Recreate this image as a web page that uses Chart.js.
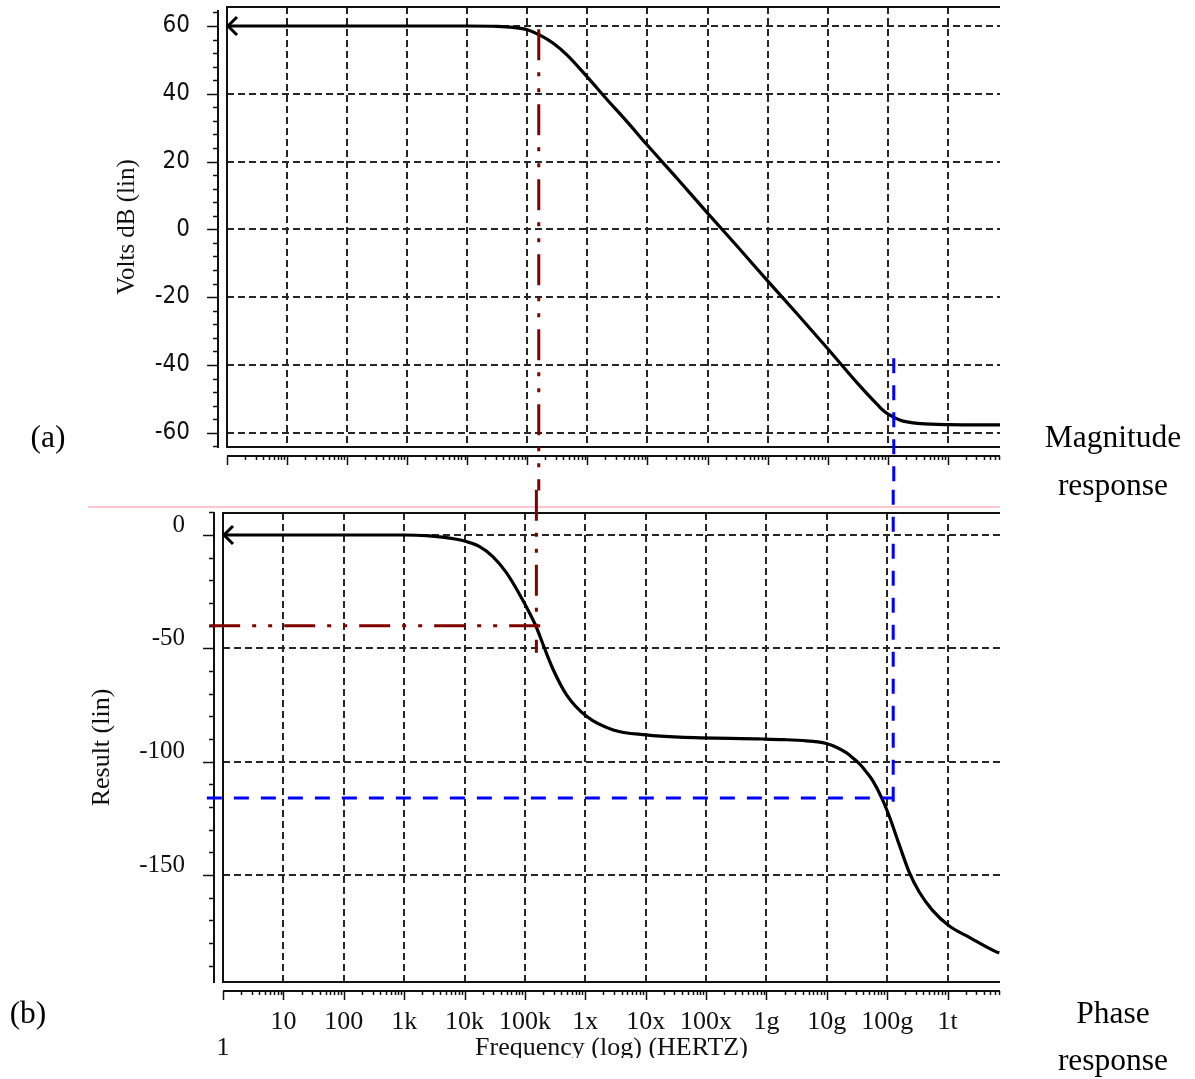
<!DOCTYPE html>
<html>
<head>
<meta charset="utf-8">
<script src="https://cdn.jsdelivr.net/npm/chart.js@4.4.1/dist/chart.umd.min.js"></script>
<style>
  body { margin: 0; background: #fff; width: 1195px; height: 1079px; position: relative; overflow: hidden;
         font-family: 'Liberation Serif', 'Times New Roman', serif; color: #000; }
  canvas { position: absolute; left: 0; top: 0; }
  .side { position: absolute; font-size: 31.5px; line-height: 1; white-space: nowrap; transform: translate(-50%, -50%); }
  .split { position: absolute; left: 88px; top: 506px; width: 912px; height: 2px; background: #ffc6cf; }
  .crop { position: absolute; left: 80px; top: 1058px; width: 940px; height: 21px; background: #fff; }
</style>
</head>
<body>
<div class="split"></div>
<canvas id="magChart" width="1195" height="1079"></canvas>
<canvas id="phaseChart" width="1195" height="1079"></canvas>
<div class="crop"></div>
<div class="side" style="left:48px;top:437px">(a)</div>
<div class="side" style="left:1113px;top:437px">Magnitude</div>
<div class="side" style="left:1113px;top:485px">response</div>
<div class="side" style="left:28px;top:1013px">(b)</div>
<div class="side" style="left:1113px;top:1013px">Phase</div>
<div class="side" style="left:1113px;top:1060px">response</div>
<script>
// frequency axis (Hz), shared by both panels
const X_TICKS = [1, 10, 100, 1e3, 1e4, 1e5, 1e6, 1e7, 1e8, 1e9, 1e10, 1e11, 1e12];
const X_LABELS = ['1', '10', '100', '1k', '10k', '100k', '1x', '10x', '100x', '1g', '10g', '100g', '1t'];
const X_MIN = 1;
const X_MAX = 7.4e12;

// (a) magnitude
const MAG_FREQ = [1, 10, 100, 1e3, 1e4, 3.2e4, 5.8e4, 1e5, 1.62e5, 2.7e5, 4.6e5, 1e6, 2.1e6, 4.6e6, 1e7,
                  3.2e7, 1e8, 3.2e8, 1e9, 3.2e9, 9.8e9, 3.1e10, 6.8e10, 8.9e10, 1.23e11, 1.58e11, 2.1e11,
                  3.5e11, 1e12, 7.4e12];
const MAG_DB = [60, 60, 60, 60, 60, 59.9, 59.6, 58.9, 57.3, 54.9, 51.4, 44.9, 38.4, 31.7, 24.8,
                14.8, 4.8, -5.2, -15.2, -25.2, -35, -45.3, -51.8, -53.8, -55.3, -56.2, -56.8,
                -57.3, -57.6, -57.7];
const MAG_TICKS = [-60, -40, -20, 0, 20, 40, 60];
const MAG_MIN = -64.2;
const MAG_MAX = 65.6;

// (b) phase
const PHASE_FREQ = [1, 10, 100, 1e3, 2.34e3, 7.4e3, 1.07e4, 1.78e4, 2.95e4, 4.9e4, 8.1e4, 1.2e5, 1.55e5, 2.0e5,
                    2.9e5, 4.9e5, 1.05e6, 2.9e6, 1.02e7, 3.6e7, 8.7e8, 2e9, 4.6e9, 7.1e9, 9.8e9, 1.41e10,
                    2.1e10, 2.8e10, 3.5e10, 4.5e10, 5.8e10, 8.3e10, 1.1e11, 1.58e11, 2.3e11, 3.4e11, 5.6e11,
                    1.07e12, 2.3e12, 6.3e12, 7.2e12];
const PHASE_DEG = [0, 0, 0, 0, -0.3, -1.9, -2.9, -5.1, -9.5, -16.5, -26, -34.5, -40.7, -48.3,
                   -59, -70.5, -80, -86, -88.2, -89.2, -90, -90.3, -90.8, -91.3, -92, -93.5,
                   -96, -98.7, -101, -104.5, -108.5, -116.5, -124.5, -136.5, -148.5, -157.5, -165.5,
                   -172.5, -177.5, -183.8, -184.4];
const PHASE_TICKS = [-150, -100, -50, 0];
const PHASE_MIN = -197.2;
const PHASE_MAX = 9.7;

// cursor lines (red: -40 deg point, blue: 100g point)
const RED_FREQ = 1.55e5;
const RED_LEFT_FREQ = 0.59;
const RED_RIGHT_FREQ = 2.05e5;
const RED_PHASE = -40;
const RED_MAG_TOP = 59;
const RED_PHASE_END = -52;
const BLUE_FREQ = 1.26e11;
const BLUE_LEFT_FREQ = 0.54;
const BLUE_PHASE = -116;
const BLUE_MAG_TOP = -38;
const BLUE_PHASE_END = -122;
const GAP_MAG = -77;     // where the cursors leave panel (a)
const GAP_PHASE = 20;    // where they enter panel (b)

const RED = '#800000';
const BLUE = '#0000ff';
const GRID = '#262626';
const INK = '#111111';
const SERIF = "'Liberation Serif', 'Times New Roman', serif";
const NARROW = "'Liberation Sans Narrow', 'Arial Narrow', 'DejaVu Sans Condensed', sans-serif";

const rulers = {
  id: 'rulers',
  beforeDatasetsDraw(chart, args, o) {
    const { ctx, chartArea: a } = chart;
    const xs = chart.scales.x, ys = chart.scales.y;
    const ry = a.bottom + o.gap, rx = a.left - o.gap;
    ctx.save();
    ctx.strokeStyle = INK;
    ctx.lineWidth = 2;
    ctx.beginPath();
    ctx.moveTo(a.right, a.top); ctx.lineTo(a.left, a.top);
    ctx.lineTo(a.left, a.bottom); ctx.lineTo(a.right, a.bottom);
    ctx.moveTo(a.left, ry); ctx.lineTo(a.right, ry);
    ctx.moveTo(rx, a.top + o.inset); ctx.lineTo(rx, a.bottom + 1);
    ctx.stroke();
    ctx.lineWidth = 1.5;
    ctx.beginPath();
    for (let e = 0; e <= 12; e++) {
      for (let m = 1; m <= 9; m++) {
        const v = m * Math.pow(10, e);
        if (v > xs.max) break;
        const px = Math.round(xs.getPixelForValue(v)) + 0.5;
        ctx.moveTo(px, ry); ctx.lineTo(px, ry + (m === 1 ? 9 : 4));
      }
    }
    for (let v = o.minorFrom; v <= o.minorTo; v += o.minorStep) {
      const py = Math.round(ys.getPixelForValue(v)) + 0.5;
      const major = ys.ticks.some(t => t.value === v);
      ctx.moveTo(rx, py); ctx.lineTo(rx - (major ? 11 : 5), py);
    }
    ctx.stroke();
    ctx.restore();
  },
  afterDatasetsDraw(chart) {
    const idx = chart.data.datasets.findIndex(d => d.arrow);
    const p = chart.getDatasetMeta(idx).data[0];
    const { ctx } = chart;
    ctx.save();
    ctx.strokeStyle = '#000';
    ctx.lineWidth = 3;
    ctx.beginPath();
    ctx.moveTo(p.x + 10, p.y - 9); ctx.lineTo(p.x + 1, p.y); ctx.lineTo(p.x + 10, p.y + 9);
    ctx.stroke();
    ctx.restore();
  }
};

const pts = (xs, ys) => xs.map((x, i) => ({ x, y: ys[i] }));

function cursor(data, color) {
  return {
    data, borderColor: color, borderWidth: 3, pointRadius: 0, clip: false,
    borderDash: color === RED ? [31, 12, 4, 12, 4, 12] : [15, 12]
  };
}

function curve(data) {
  return { data, arrow: true, borderColor: '#000', borderWidth: 3.2, pointRadius: 0, cubicInterpolationMode: 'monotone' };
}

function xScale(showLabels, height) {
  return {
    type: 'logarithmic', min: X_MIN, max: X_MAX,
    afterBuildTicks: s => { s.ticks = X_TICKS.map(v => ({ value: v })); },
    afterFit: s => { s.height = height; s.paddingLeft = 0; s.paddingRight = 0; },
    grid: { color: GRID, lineWidth: 2, drawTicks: false },
    border: { display: false, dash: [7, 4] },
    ticks: {
      display: showLabels, autoSkip: false, maxRotation: 0, padding: 27, color: INK,
      font: { family: SERIF, size: 26, lineHeight: 1 },
      callback: (v, i) => (i === 0 ? ['', X_LABELS[i]] : X_LABELS[i])
    },
    title: {
      display: showLabels, text: 'Frequency (log) (HERTZ)', color: INK,
      font: { family: SERIF, size: 26 }, padding: { top: 0, bottom: 15 }
    }
  };
}

function yScale(min, max, ticks, title, tickFont, titleSize, labelOffset, titlePad, tickPad) {
  return {
    min, max,
    afterBuildTicks: s => { s.ticks = ticks.map(v => ({ value: v })); },
    afterFit: s => { s.width = 140; s.paddingTop = 0; s.paddingBottom = 0; },
    grid: { color: GRID, lineWidth: 2, drawTicks: false },
    border: { display: false, dash: [7, 4] },
    ticks: { padding: tickPad, labelOffset, color: INK, font: tickFont, callback: v => String(v) },
    title: { display: true, text: title, color: INK, font: { family: SERIF, size: titleSize },
             padding: { top: titlePad, bottom: 0 } }
  };
}

const common = {
  responsive: false, animation: false, events: [],
  plugins: { legend: { display: false }, tooltip: { enabled: false } }
};

new Chart(document.getElementById('magChart'), {
  type: 'line',
  data: {
    datasets: [
      cursor([{ x: RED_FREQ, y: RED_MAG_TOP }, { x: RED_FREQ, y: GAP_MAG }], RED),
      cursor([{ x: BLUE_FREQ, y: BLUE_MAG_TOP }, { x: BLUE_FREQ, y: GAP_MAG }], BLUE),
      curve(pts(MAG_FREQ, MAG_DB))
    ]
  },
  options: {
    ...common,
    layout: { padding: { left: 87, right: 195, top: 7, bottom: 592 } },
    scales: {
      x: xScale(false, 40),
      y: yScale(MAG_MIN, MAG_MAX, MAG_TICKS, 'Volts dB (lin)', { family: NARROW, size: 24 }, 25, 0, 25, 37)
    },
    plugins: { ...common.plugins, rulers: { gap: 9, inset: 3, minorFrom: -64, minorTo: 64, minorStep: 4 } }
  },
  plugins: [rulers]
});

new Chart(document.getElementById('phaseChart'), {
  type: 'line',
  data: {
    datasets: [
      cursor([{ x: RED_FREQ, y: GAP_PHASE }, { x: RED_FREQ, y: RED_PHASE_END }], RED),
      cursor([{ x: RED_LEFT_FREQ, y: RED_PHASE }, { x: RED_RIGHT_FREQ, y: RED_PHASE }], RED),
      cursor([{ x: BLUE_FREQ, y: GAP_PHASE }, { x: BLUE_FREQ, y: BLUE_PHASE_END }], BLUE),
      cursor([{ x: BLUE_LEFT_FREQ, y: BLUE_PHASE }, { x: BLUE_FREQ, y: BLUE_PHASE }], BLUE),
      curve(pts(PHASE_FREQ, PHASE_DEG))
    ]
  },
  options: {
    ...common,
    layout: { padding: { left: 83, right: 195, top: 513, bottom: 0 } },
    scales: {
      x: xScale(true, 97),
      y: yScale(PHASE_MIN, PHASE_MAX, PHASE_TICKS, 'Result (lin)', { family: SERIF, size: 25 }, 26, -10, 4, 38)
    },
    plugins: { ...common.plugins, rulers: { gap: 9, inset: -1, minorFrom: -190, minorTo: 10, minorStep: 10 } }
  },
  plugins: [rulers]
});
</script>
</body>
</html>
